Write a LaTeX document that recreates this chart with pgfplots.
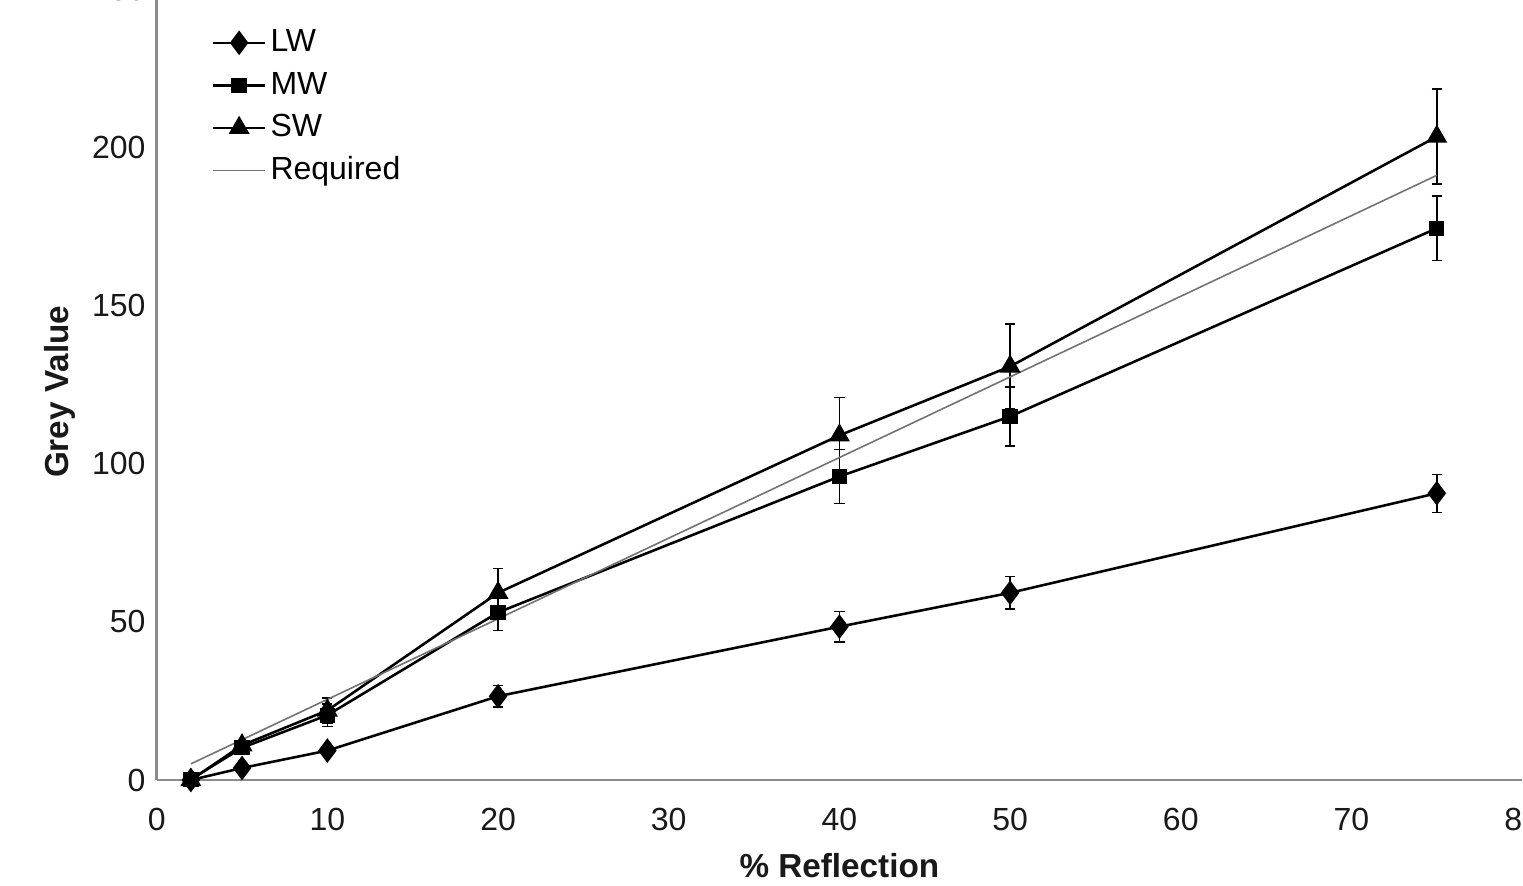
\documentclass[border=0pt]{standalone}
\usepackage{pgfplots}
\usepackage{pgfplotstable}
\pgfplotsset{compat=1.18}
\usepackage{fontspec}
\setmainfont{Liberation Sans}

% Mean grey value per reflectance target, with standard deviation
\pgfplotstableread{
x   y     e
2   0     0.6
5   3.8   1.0
10  9.3   1.5
20  26.5  3.4
40  48.5  4.8
50  59.2  5.1
75  90.7  6.0
}\lwdata
\pgfplotstableread{
x   y     e
2   0.2   0.6
5   10.2  1.5
10  20.5  3.5
20  53.0  5.7
40  96.0  8.6
50  115.0 9.3
75  174.5 10.2
}\mwdata
\pgfplotstableread{
x   y     e
2   0     0.6
5   11.0  1.5
10  22.0  4.0
20  59.2  7.7
40  109.0 12.0
50  130.8 13.5
75  203.5 15.0
}\swdata
\pgfplotstableread{
x   y
2   5.1
5   12.75
10  25.5
20  51.0
40  102.0
50  127.5
75  191.25
}\reqdata

\pgfplotsset{
  sdbars/.style={
    error bars/y dir=both, error bars/y explicit,
    error bars/error bar style={line width=0.45pt, black},
    error bars/error mark options={rotate=90, mark size=1.6pt, line width=0.45pt, black}},
}

\begin{document}
\begin{tikzpicture}
\begin{axis}[
  at={(0,0)}, anchor=south west,
  scale only axis, width=426.7pt, height=247pt,
  xmin=0, xmax=80, ymin=0, ymax=250,
  axis x line*=bottom, axis y line*=left,
  axis line style={draw=black!45, line width=0.9pt},
  xtick={0,10,...,80}, ytick={0,50,...,250},
  major tick length=0pt,
  /pgf/number format/assume math mode=true,
  tick label style={font=\fontsize{10}{12}\selectfont, text=black!90},
  xticklabel shift=5.4pt,
  xlabel={\bfseries\% Reflection},
  ylabel={\bfseries Grey Value},
  label style={font=\fontsize{10.4}{12}\selectfont, text=black!90},
  xlabel style={at={(axis description cs:0.5,-0.108)}, anchor=center},
  ylabel style={at={(axis description cs:-0.0708,0.491)}, anchor=center},
  clip=false,
  legend cell align=left,
  legend style={draw=none, fill=none, inner sep=0pt,
    at={(axis description cs:0.040,0.956)}, anchor=north west,
    font=\fontsize{10}{12}\selectfont,
    nodes={inner ysep=0.8pt, inner xsep=1.3pt, text height=7.5pt, text depth=2pt},
    row sep=2.2pt},
  legend image code/.code={
    \draw[mark repeat=2, mark phase=2, #1]
      plot coordinates {(0pt,0pt) (8.1pt,0pt) (16.2pt,0pt)};},
]
\addplot[black, line width=0.8pt, mark=diamond*, mark size=3.2pt,
  mark options={solid, fill=black}, sdbars]
  table[x=x, y=y, y error=e]{\lwdata};
\addlegendentry{LW}
\addplot[black, line width=0.8pt, mark=square*, mark size=2pt,
  mark options={solid, fill=black}, sdbars]
  table[x=x, y=y, y error=e]{\mwdata};
\addlegendentry{MW}
\addplot[black, line width=0.8pt, mark=triangle*, mark size=3pt,
  mark options={solid, fill=black}, sdbars]
  table[x=x, y=y, y error=e]{\swdata};
\addlegendentry{SW}
\addplot[black!55, line width=0.5pt, mark=none]
  table[x=x, y=y]{\reqdata};
\addlegendentry{Required}
\end{axis}
\pgfresetboundingbox
\path[use as bounding box] (-48.97pt,-32.81pt) rectangle (426.97pt,243.75pt);
\end{tikzpicture}
\end{document}
